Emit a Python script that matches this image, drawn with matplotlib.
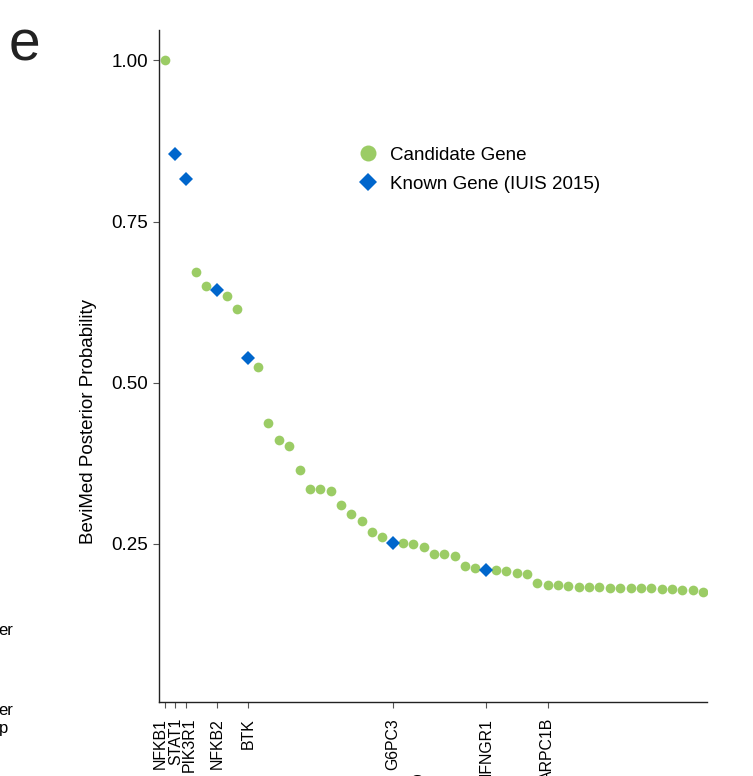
import numpy as np
import matplotlib
matplotlib.use("Agg")
import matplotlib.pyplot as plt
from matplotlib.lines import Line2D
from matplotlib.transforms import ScaledTranslation

plt.rcParams["font.family"] = ["Liberation Sans", "DejaVu Sans"]

# posterior probability for each gene, ranked from highest to lowest
prob = [1.000, 0.854, 0.816, 0.672, 0.650, 0.644, 0.635, 0.615, 0.538, 0.524,
        0.437, 0.411, 0.402, 0.364, 0.335, 0.335, 0.332, 0.310, 0.296, 0.285,
        0.268, 0.261, 0.252, 0.251, 0.250, 0.245, 0.235, 0.235, 0.231, 0.216,
        0.213, 0.209, 0.209, 0.208, 0.205, 0.204, 0.190, 0.187, 0.186, 0.185,
        0.183, 0.183, 0.183, 0.182, 0.182, 0.181, 0.181, 0.181, 0.180, 0.180,
        0.179, 0.178, 0.176]

# ranks of genes already listed by IUIS 2015
known_ranks = [1, 2, 5, 8, 22, 31]

# genes named on the x axis
tick_ranks = [0, 1, 2, 5, 8, 22, 31, 37]
tick_genes = ["NFKB1", "STAT1", "PIK3R1", "NFKB2", "BTK", "G6PC3", "IFNGR1", "ARPC1B"]

green = "#9BCC65"
blue = "#0066CC"

rank = np.arange(len(prob))
prob = np.array(prob)
is_known = np.isin(rank, known_ranks)

fig = plt.figure(figsize=(7.53, 7.76), dpi=100)
ax = fig.add_axes([0.2112, 0.0954, 0.7278, 0.8659])

ax.plot(rank[~is_known], prob[~is_known], "o", color=green, markersize=7,
        markeredgewidth=0)
ax.plot(rank[is_known], prob[is_known], "D", color=blue, markersize=6.8,
        markeredgewidth=0)

ax.set_xlim(-0.58, 52.4)
ax.set_ylim(0.005, 1.047)

ax.set_yticks([0.25, 0.50, 0.75, 1.00])
ax.set_yticklabels(["0.25", "0.50", "0.75", "1.00"])
ax.set_xticks(tick_ranks)
ax.set_xticklabels(tick_genes, rotation=90)

ax.tick_params(axis="y", labelsize=13.5, length=4, width=0.8, color="#555555", pad=4)
ax.tick_params(axis="x", labelsize=11.4, length=4, width=0.8, color="#555555", pad=7.5)

# spread the three crowded labels at the top ranks
for lbl, dx in zip(ax.get_xticklabels(), [-3.6, 0, 2.9, 0, 0, 0, 0, 0]):
    lbl.set_transform(lbl.get_transform() + ScaledTranslation(dx / 72, 0, fig.dpi_scale_trans))

for side in ["top", "right"]:
    ax.spines[side].set_visible(False)
for side in ["left", "bottom"]:
    ax.spines[side].set_color("#222222")
    ax.spines[side].set_linewidth(1.0)

ax.set_ylabel("BeviMed Posterior Probability", fontsize=13.5)
ax.yaxis.set_label_coords(-0.113, 0.418)
ax.set_xlabel("Gene", fontsize=13.5)
ax.xaxis.set_label_coords(0.5, -0.108)

handles = [
    Line2D([], [], marker="o", linestyle="", color=green, markersize=11.5, markeredgewidth=0),
    Line2D([], [], marker="D", linestyle="", color=blue, markersize=9.5, markeredgewidth=0),
]
ax.legend(handles, ["Candidate Gene", "Known Gene (IUIS 2015)"],
          loc="upper left", bbox_to_anchor=(0.333, 0.838), frameon=False,
          fontsize=13.5, handletextpad=0.2, labelspacing=0.65, borderaxespad=0)

# panel letter and fragments of the neighbouring panel
fig.text(0.012, 0.922, "e", fontsize=41, color="#222222", ha="left", va="baseline")
fig.text(0.017, 0.187, "er", fontsize=12, ha="right", va="center")
fig.text(0.017, 0.085, "er", fontsize=12, ha="right", va="center")
fig.text(0.011, 0.061, "p", fontsize=12, ha="right", va="center")

fig.savefig("out.png", dpi=100)
